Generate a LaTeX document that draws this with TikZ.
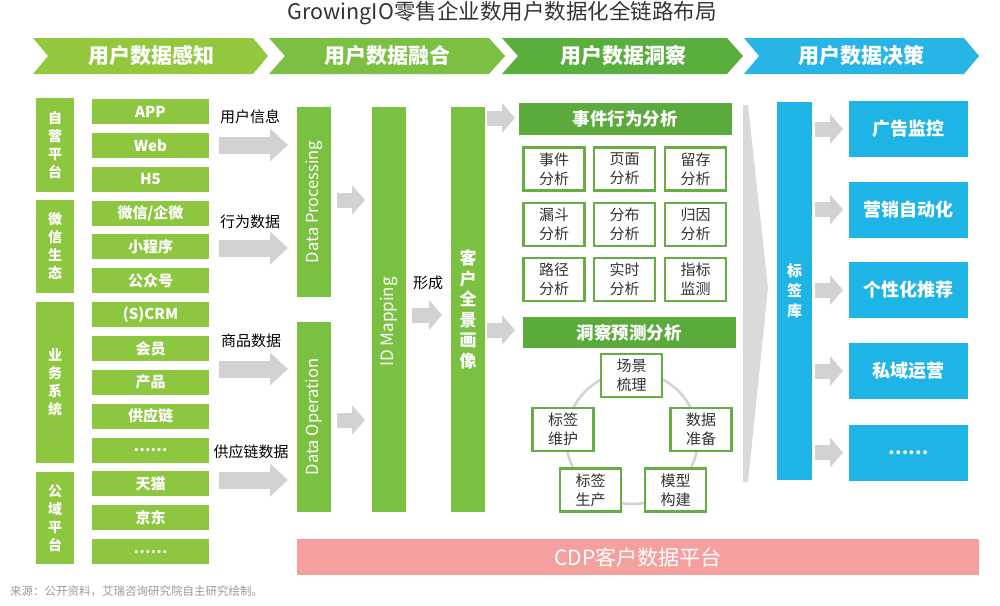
\documentclass[tikz,border=0pt]{standalone}
\usepackage{fontspec}
\setmainfont{Noto Sans CJK SC}
\usetikzlibrary{arrows.meta}
\definecolor{cH1}{HTML}{93C83E}
\definecolor{cH2}{HTML}{7CC043}
\definecolor{cH3}{HTML}{5AAE3E}
\definecolor{cH4}{HTML}{27B5E5}
\definecolor{cLime}{HTML}{8DC63F}
\definecolor{cBar}{HTML}{7AC142}
\definecolor{cDark}{HTML}{5BAA3C}
\definecolor{cBorder}{HTML}{66AD45}
\definecolor{cBlue}{HTML}{1EB4E6}
\definecolor{cPink}{HTML}{F4A09E}
\definecolor{cGray}{HTML}{D2D2D2}
\definecolor{cBig}{HTML}{DADADA}
\definecolor{cText}{HTML}{333333}
\begin{document}
\begin{tikzpicture}[x=1pt,y=-1pt,
  every node/.style={inner sep=0pt, outer sep=0pt},
  item/.style={fill=cLime, text=white, font=\fontsize{15}{17}\selectfont\bfseries, minimum width=117pt, minimum height=25pt},
  grp/.style={fill=cLime, text=white, font=\fontsize{14}{18}\selectfont\bfseries, align=center, minimum width=38pt},
  bar/.style={fill=cBar, text=white, font=\fontsize{16.5}{18}\selectfont},
  head/.style={text=white, font=\fontsize{21}{24}\selectfont\bfseries},
  dhead/.style={fill=cDark, text=white, font=\fontsize{17.5}{20}\selectfont\bfseries, minimum width=213pt, minimum height=32pt},
  cell/.style={draw=cBorder, line width=2.2pt, fill=white, text=cText, font=\fontsize{15}{19}\selectfont, align=center, minimum width=61pt, minimum height=43pt},
  bluebox/.style={fill=cBlue, text=white, font=\fontsize{18}{20}\selectfont\bfseries, minimum width=119pt, minimum height=56pt},
  lbl/.style={text=black, font=\fontsize{15}{17}\selectfont},
  bigarrow/.style={draw=cGray, line width=17pt, -{Triangle[line width=0pt, length=18pt, width=33pt]}},
  smallarrow/.style={draw=cGray, line width=15pt, -{Triangle[line width=0pt, length=13pt, width=30pt]}}
]
\useasboundingbox (0,0) rectangle (1000,605);
% title
\node[text=cText, font=\fontsize{21.5}{24}\selectfont] (title) at (502,13) {GrowingIO零售企业数用户数据化全链路布局};
% header chevrons
\fill[cH1] (33,38) -- (253,38) -- (268,56) -- (253,74) -- (33,74) -- (48,56) -- cycle;
\fill[cH2] (269,38) -- (489,38) -- (505,56) -- (489,74) -- (269,74) -- (285,56) -- cycle;
\fill[cH3] (502,38) -- (727,38) -- (743,56) -- (727,74) -- (502,74) -- (518,56) -- cycle;
\fill[cH4] (744,38) -- (964,38) -- (979,56) -- (964,74) -- (744,74) -- (759,56) -- cycle;
\node[head] (h1) at (151,56) {用户数据感知};
\node[head] (h2) at (387,56) {用户数据融合};
\node[head] (h3) at (623,56) {用户数据洞察};
\node[head] (h4) at (861,56) {用户数据决策};
% left groups
\node[grp, minimum height=94pt] (g1) at (55,145) {自\\营\\平\\台};
\node[grp, minimum height=93pt] (g2) at (55,246.5) {微\\信\\生\\态};
\node[grp, minimum height=161pt] (g3) at (55,382.5) {业\\务\\系\\统};
\node[grp, minimum height=92pt] (g4) at (55,518) {公\\域\\平\\台};
% items
\foreach \t [count=\i from 0] in {APP,Web,H5,微信/企微,小程序,公众号,(S)CRM,会员,产品,供应链,……,天猫,京东,……}{
  \node[item] (it\i) at (150.5,111.5+33.85*\i) {\t};
}
% labelled arrows
\coordinate (a1s) at (219,145); \coordinate (a1e) at (288,145);
\coordinate (a2s) at (219,248); \coordinate (a2e) at (288,248);
\coordinate (a3s) at (219,369); \coordinate (a3e) at (288,369);
\coordinate (a4s) at (219,480); \coordinate (a4e) at (288,480);
\draw[bigarrow] (a1s) -- (a1e);
\draw[bigarrow] (a2s) -- (a2e);
\draw[bigarrow] (a3s) -- (a3e);
\draw[bigarrow] (a4s) -- (a4e);
\node[lbl] (l1) at (250,117) {用户信息};
\node[lbl] (l2) at (250,222) {行为数据};
\node[lbl] (l3) at (251,341) {商品数据};
\node[lbl] (l4) at (251,452) {供应链数据};
% fusion bars
\node[bar, rotate=90, minimum width=190pt, minimum height=34pt] (dp) at (314,202) {Data Processing};
\node[bar, rotate=90, minimum width=190pt, minimum height=34pt] (do) at (314,417) {Data Operation};
\node[bar, minimum width=34pt, minimum height=405pt] (idm) at (389,309.5) {};
\node[text=white, font=\fontsize{17}{18}\selectfont, rotate=90] (idmt) at (389,322) {ID Mapping};
\node[bar, minimum width=34pt, minimum height=405pt, font=\fontsize{17}{20.5}\selectfont\bfseries, align=center] (kh) at (468,309.5) {客\\户\\全\\景\\画\\像};
\draw[smallarrow] (337,200) coordinate (b1s) -- (365,200) coordinate (b1e);
\draw[smallarrow] (337,420) coordinate (b2s) -- (365,420) coordinate (b2e);
\draw[smallarrow] (412,315) coordinate (b3s) -- (442,315) coordinate (b3e);
\node[lbl] (xc) at (428,283) {形成};
\draw[smallarrow] (487,118) coordinate (b4s) -- (515,118) coordinate (b4e);
\draw[smallarrow] (487,330) coordinate (b5s) -- (515,330) coordinate (b5e);
% insight
\node[dhead] (ev) at (625,119) {事件行为分析};
\node[cell] (c11) at (554,169) {事件\\分析};
\node[cell] (c12) at (624.5,169) {页面\\分析};
\node[cell] (c13) at (695.5,169) {留存\\分析};
\node[cell] (c21) at (554,224.5) {漏斗\\分析};
\node[cell] (c22) at (624.5,224.5) {分布\\分析};
\node[cell] (c23) at (695.5,224.5) {归因\\分析};
\node[cell] (c31) at (554,279.5) {路径\\分析};
\node[cell] (c32) at (624.5,279.5) {实时\\分析};
\node[cell] (c33) at (695.5,279.5) {指标\\监测};
\node[dhead, minimum height=31pt] (ins) at (629,332.5) {洞察预测分析};
\draw[cGray, line width=2.5pt] (632,438) circle (66);
\node[cell] (p1) at (631.5,375.5) {场景\\梳理};
\node[cell] (p2) at (701,429.5) {数据\\准备};
\node[cell] (p3) at (675.5,490) {模型\\构建};
\node[cell] (p4) at (590.5,490) {标签\\生产};
\node[cell] (p5) at (563,429.5) {标签\\维护};
% big gray chevron
\fill[cBig] (743,105) -- (748,105) -- (768,288) -- (748,482) -- (743,482) -- cycle;
% decision
\node[fill=cBlue, text=white, font=\fontsize{15}{20}\selectfont\bfseries, align=center, minimum width=35pt, minimum height=378pt] (tag) at (794.5,291) {标\\签\\库};
\foreach \y/\t [count=\i] in {129/广告监控,209.5/营销自动化,290/个性化推荐,371/私域运营,452.5/……}{
  \node[bluebox] (d\i) at (908.5,\y) {\t};
  \draw[smallarrow] (tag.east |- d\i.west) ++(3,0) coordinate (e\i s) -- ([xshift=-6pt]d\i.west) coordinate (e\i e);
}
% CDP
\node[fill=cPink, text=white, font=\fontsize{21}{24}\selectfont, minimum width=682pt, minimum height=36pt] (cdp) at (638,557) {CDP客户数据平台};
% footer
\node[anchor=west, text=gray!80, font=\fontsize{11.5}{13}\selectfont] (src) at (10,591) {来源：公开资料，艾瑞咨询研究院自主研究绘制。};
\end{tikzpicture}
\end{document}
